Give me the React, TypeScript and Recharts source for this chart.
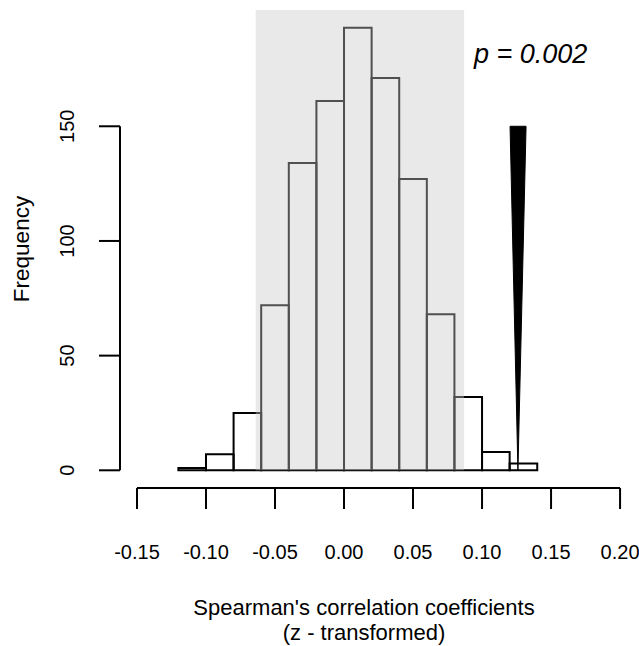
import React from 'react';
import { ComposedChart, XAxis, YAxis, Area, ReferenceArea, ReferenceLine } from 'recharts';

// histogram of permuted Spearman coefficients, bin width 0.02
const binStarts = [-0.12, -0.1, -0.08, -0.06, -0.04, -0.02, 0, 0.02, 0.04, 0.06, 0.08, 0.1, 0.12];
const counts = [1, 7, 25, 72, 134, 161, 193, 171, 127, 68, 32, 8, 3];
const binWidth = 0.02;

const xTicks = [-0.15, -0.1, -0.05, 0, 0.05, 0.1, 0.15, 0.2];
const yTicks = [0, 50, 100, 150];

// 95% band (shaded) and the observed value marker
const bandLow = -0.064;
const bandHigh = 0.087;
const observed = [
  { x: 0.1203, range: [150, 150] },
  { x: 0.126, range: [0, 150] },
  { x: 0.1319, range: [150, 150] },
];

const xDomain = [-0.1623, 0.2101];
const yDomain = [-7.72, 200.7];
const FONT = '"Liberation Sans", Arial, Helvetica, sans-serif';

const YTick = (props: any) => {
  const { x, y, payload } = props;
  return (
    <text x={x} y={y} transform={`rotate(-90 ${x} ${y})`} textAnchor="middle" fontSize={20} fontFamily={FONT} fill="#000">
      {payload.value}
    </text>
  );
};

export default function App() {
  return (
    <div style={{ position: 'absolute', left: 0, top: 0, width: 639, height: 646, background: '#fff' }}>
      <ComposedChart width={639} height={646} data={observed} margin={{ top: 10, right: 5, bottom: 78, left: 60 }}>
        <XAxis
          type="number"
          dataKey="x"
          domain={xDomain}
          allowDataOverflow
          ticks={xTicks}
          interval={0}
          tickFormatter={(v: number) => v.toFixed(2)}
          axisLine={false}
          tickLine={{ stroke: '#000', strokeWidth: 2 }}
          tickSize={21}
          tickMargin={36}
          height={80}
          tick={{ fill: '#000', fontSize: 20, fontFamily: FONT }}
        />
        <YAxis
          type="number"
          domain={yDomain}
          allowDataOverflow
          ticks={yTicks}
          interval={0}
          axisLine={false}
          tickLine={{ stroke: '#000', strokeWidth: 2 }}
          tickSize={21}
          tickMargin={25}
          width={60}
          tick={<YTick />}
        />
        {binStarts.map((b, i) => (
          <ReferenceArea
            key={i}
            x1={b}
            x2={b + binWidth}
            y1={0}
            y2={counts[i]}
            fill="none"
            fillOpacity={0}
            stroke="#000"
            strokeWidth={2}
          />
        ))}
        <ReferenceArea x1={bandLow} x2={bandHigh} y1={0} y2={yDomain[1]} fill="rgb(200,200,200)" fillOpacity={0.4} stroke="none" />
        <ReferenceLine segment={[{ x: xDomain[0], y: 0 }, { x: xDomain[0], y: 150 }]} stroke="#000" strokeWidth={2} ifOverflow="visible" />
        <ReferenceLine segment={[{ x: -0.15, y: yDomain[0] }, { x: 0.2, y: yDomain[0] }]} stroke="#000" strokeWidth={2} ifOverflow="visible" />
        <Area
          type="linear"
          dataKey="range"
          stroke="#000"
          strokeWidth={1}
          fill="#000"
          fillOpacity={1}
          isAnimationActive={false}
          dot={false}
          activeDot={false}
        />
      </ComposedChart>
      <svg width={639} height={646} style={{ position: 'absolute', left: 0, top: 0, pointerEvents: 'none' }}>
        <text x={29} y={249} transform="rotate(-90 29 249)" textAnchor="middle" fontSize={22.5} fontFamily={FONT} fill="#000">
          Frequency
        </text>
        <text x={364} y={615} textAnchor="middle" fontSize={22} fontFamily={FONT} fill="#000">
          Spearman's correlation coefficients
        </text>
        <text x={364} y={640} textAnchor="middle" fontSize={22} fontFamily={FONT} fill="#000">
          (z - transformed)
        </text>
        <text x={474} y={63} fontSize={27} fontStyle="italic" fontFamily={FONT} fill="#000">
          p = 0.002
        </text>
      </svg>
    </div>
  );
}
